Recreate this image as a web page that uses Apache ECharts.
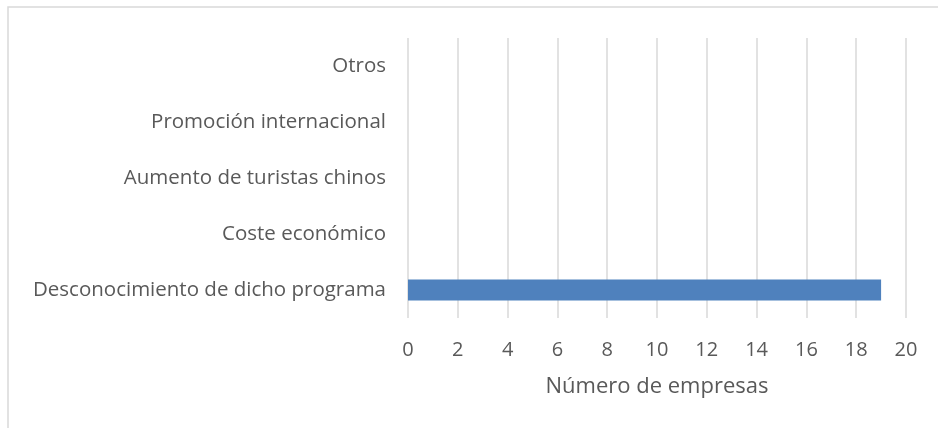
<!DOCTYPE html>
<html>
<head>
<meta charset="utf-8">
<script src="https://cdn.jsdelivr.net/npm/echarts@6/dist/echarts.min.js"></script>
<style>
  html, body { margin: 0; padding: 0; background: #fff; }
  #chart { width: 938px; height: 428px; }
</style>
</head>
<body>
<div id="chart"></div>
<script>
const categories = [
  'Desconocimiento de dicho programa',
  'Coste económico',
  'Aumento de turistas chinos',
  'Promoción internacional',
  'Otros'
]
const empresas = [19, 0, 0, 0, 0]
const axisName = 'Número de empresas'

const myChart = echarts.init(document.getElementById('chart'))
const font = '"Open Sans", "Noto Sans", sans-serif'

myChart.setOption({
  animation: false,
  textStyle: { fontFamily: font },
  graphic: [{
    type: 'rect',
    shape: { x: 8, y: 7, width: 960, height: 460 },
    style: { fill: 'none', stroke: '#d9d9d9', lineWidth: 1.5 },
    silent: true
  }],
  grid: { left: 408, right: 32, top: 38, height: 280 },
  xAxis: {
    type: 'value',
    min: 0,
    max: 20,
    interval: 2,
    name: axisName,
    nameLocation: 'middle',
    nameGap: 58,
    nameTextStyle: { color: '#595959', fontSize: 22, fontFamily: font },
    axisLine: { show: false },
    axisTick: { show: false },
    axisLabel: { color: '#595959', fontSize: 20, margin: 22, fontFamily: font },
    splitLine: { show: true, lineStyle: { color: '#d9d9d9', width: 1.5 } }
  },
  yAxis: {
    type: 'category',
    data: categories,
    axisLine: { show: false },
    axisTick: { show: false },
    axisLabel: { color: '#595959', fontSize: 20.5, margin: 22, fontFamily: font },
    splitLine: { show: false }
  },
  series: [{
    type: 'bar',
    data: empresas,
    barWidth: 21,
    itemStyle: { color: '#4f81bd' }
  }]
})
</script>
</body>
</html>
